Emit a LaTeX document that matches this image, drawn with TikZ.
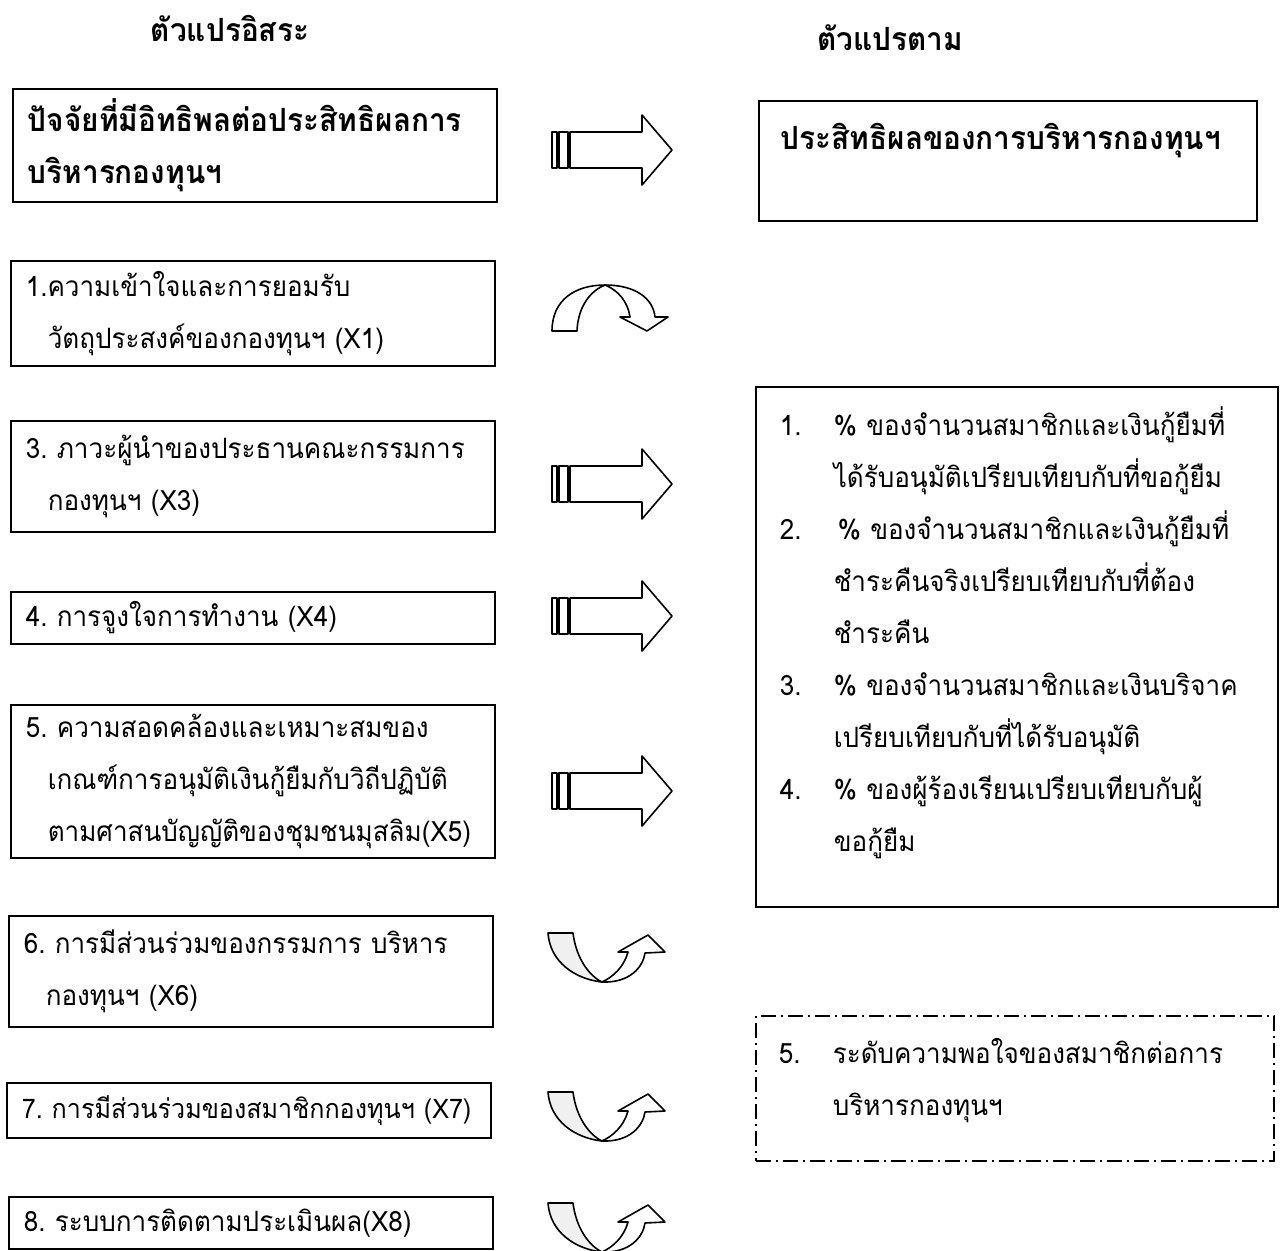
\documentclass[tikz,border=0pt]{standalone}
\usepackage{fontspec}
\newfontfamily\thaifont[Script=Thai,FakeStretch=0.93]{Loma}

\newcommand{\indt}{\hspace*{11pt}}
\newcommand{\lnum}[1]{\makebox[27pt][l]{#1}}

\tikzset{
  box/.style={draw,line width=0.8pt,anchor=north west,align=left,
    inner xsep=7.5pt,inner ysep=0pt,text width=#1,
    font=\thaifont\fontsize{14pt}{26pt}\selectfont},
  box/.default=227pt,
  boldbox/.style={box,font=\thaifont\bfseries\fontsize{16pt}{26pt}\selectfont},
  rbox/.style={box=#1,inner xsep=12pt},
  title/.style={font=\thaifont\bfseries\fontsize{16pt}{18pt}\selectfont},
  arrline/.style={draw,line width=0.8pt,line join=round,fill=white},
  blockarr/.pic={
    \path[arrline] (-58,-18) rectangle (-53,18);
    \path[arrline] (-51,-18) rectangle (-42,18);
    \path[arrline] (-40,-18) -- (32,-18) -- (32,-35) -- (62,0) -- (32,35) -- (32,18) -- (-40,18) -- cycle;
  },
  archarr/.pic={
    \path[arrline] (-58,21) .. controls (-58,-10) and (-35,-25) .. (-5,-25)
      .. controls (25,-25) and (43,-12) .. (45,7) -- (58,7) -- (37,21) -- (10,7) -- (20,7)
      .. controls (18,-8) and (8,-20) .. (-5,-25)
      .. controls (-18,-20) and (-32,-5) .. (-33,21) -- cycle;
  },
  cuparr/.pic={
    \path[arrline,fill=black!6] (-62,-24) -- (-37,-24) .. controls (-34,0) and (-22,18) .. (-8,25)
      .. controls (-35,22) and (-60,5) .. (-62,-24) -- cycle;
    \path[arrline] (-8,25) .. controls (20,26) and (33,10) .. (35,-4) -- (55,-5) -- (38,-22) -- (8,-5) -- (18,-5)
      .. controls (14,10) and (3,20) .. (-8,25) -- cycle;
  }
}

\begin{document}
\begin{tikzpicture}[x=0.5pt,y=-0.5pt]
\useasboundingbox (0,0) rectangle (1281,1250);

% column titles
\node[title] at (230,28) (tl) {ตัวแปรอิสระ};
\node[title] at (890,38) (tr) {ตัวแปรตาม};

% independent variables
\node[boldbox,minimum height=56.5pt] at (12,88) (L0) {ปัจจัยที่มีอิทธิพลต่อประสิทธิผลการ\\บริหารกองทุนฯ};
\node[box,minimum height=52.5pt] at (10,260) (L1) {1.ความเข้าใจและการยอมรับ\\\indt วัตถุประสงค์ของกองทุนฯ~(X1)};
\node[box,minimum height=55.5pt] at (10,420) (L3) {3.~ภาวะผู้นำของประธานคณะกรรมการ\\\indt กองทุนฯ~(X3)};
\node[box,minimum height=26pt] at (10,591) (L4) {4.~การจูงใจการทำงาน~(X4)};
\node[box,minimum height=76.5pt] at (10,704) (L5) {5.~ความสอดคล้องและเหมาะสมของ\\\indt เกณฑ์การอนุมัติเงินกู้ยืมกับวิถีปฏิบัติ\\\indt ตามศาสนบัญญัติของชุมชนมุสลิม(X5)};
\node[box,minimum height=55.5pt] at (8,915) (L6) {6.~การมีส่วนร่วมของกรรมการ~บริหาร\\\indt กองทุนฯ~(X6)};
\node[box,minimum height=27.5pt,font=\thaifont\fontsize{13.5pt}{26pt}\selectfont] at (6,1082) (L7) {7.~การมีส่วนร่วมของสมาชิกกองทุนฯ~(X7)};
\node[box,minimum height=26pt] at (8,1196) (L8) {8.~ระบบการติดตามประเมินผล(X8)};

% dependent variable
\node[boldbox=238pt,inner xsep=11pt,minimum height=60pt,text depth=24pt] at (758,100) (R0) {ประสิทธิผลของการบริหารกองทุนฯ};
\node[rbox=237pt,minimum height=260pt] at (755,386) (R1) {\lnum{1.}\%~ของจำนวนสมาชิกและเงินกู้ยืมที่\\
\hspace*{27pt}ได้รับอนุมัติเปรียบเทียบกับที่ขอกู้ยืม\\
\lnum{2.}\hspace*{2pt}\%~ของจำนวนสมาชิกและเงินกู้ยืมที่\\
\hspace*{27pt}ชำระคืนจริงเปรียบเทียบกับที่ต้อง\\
\hspace*{27pt}ชำระคืน\\
\lnum{3.}\%~ของจำนวนสมาชิกและเงินบริจาค\\
\hspace*{27pt}เปรียบเทียบกับที่ได้รับอนุมัติ\\
\lnum{4.}\%~ของผู้ร้องเรียนเปรียบเทียบกับผู้\\
\hspace*{27pt}ขอกู้ยืม\rule[-18pt]{0pt}{1pt}};
\node[rbox=236pt,inner xsep=11.5pt,minimum height=72.5pt,dash pattern=on 7.5pt off 2.5pt on 1pt off 2.5pt] at (755,1015) (R5) {\lnum{5.}ระดับความพอใจของสมาชิกต่อการ\\\hspace*{27pt}บริหารกองทุนฯ\rule[-11pt]{0pt}{1pt}};

% arrows between the columns
\pic at (610,150) {blockarr};
\pic at (610,310) {archarr};
\pic at (610,484) {blockarr};
\pic at (610,616) {blockarr};
\pic at (610,791) {blockarr};
\pic at (610,957) {cuparr};
\pic at (610,1116) {cuparr};
\pic at (610,1227) {cuparr};

\end{tikzpicture}
\end{document}
